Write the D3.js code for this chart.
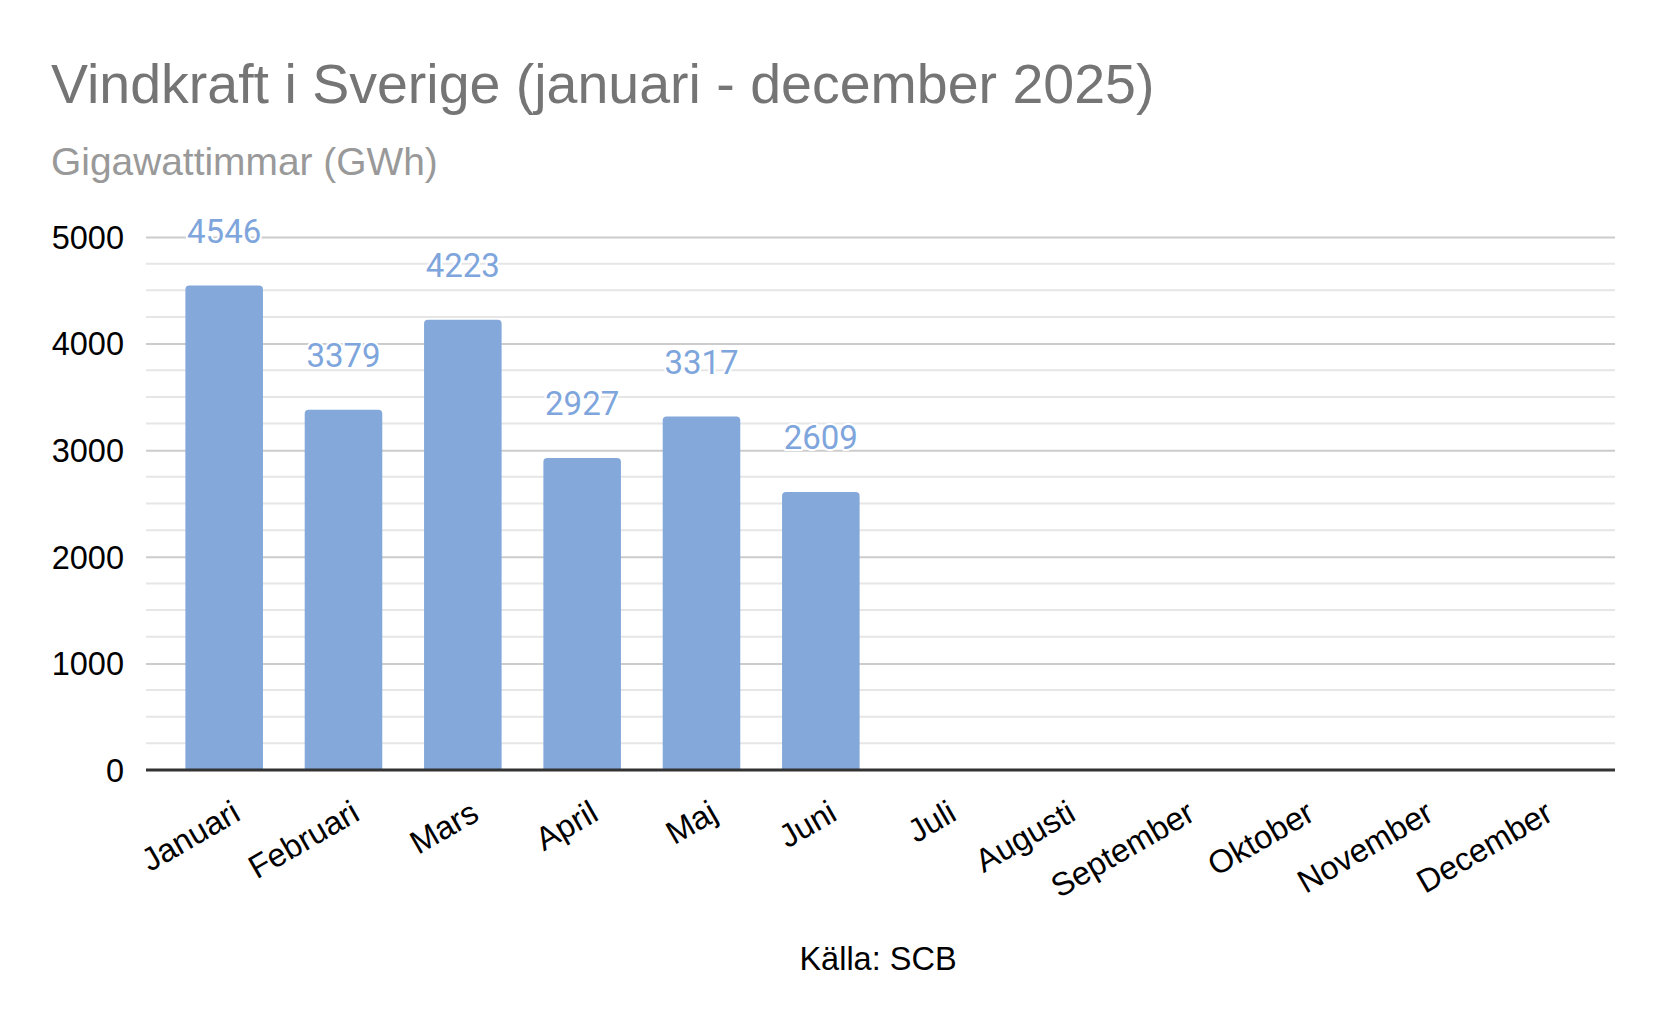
<!DOCTYPE html>
<html>
<head>
<meta charset="utf-8">
<script src="https://cdn.jsdelivr.net/npm/d3@7"></script>
<style>
  html, body { margin: 0; padding: 0; background: #fff; }
  svg { display: block; }
</style>
</head>
<body>
<script>
const months = ["Januari","Februari","Mars","April","Maj","Juni","Juli","Augusti","September","Oktober","November","December"];
const values = [4546, 3379, 4223, 2927, 3317, 2609, null, null, null, null, null, null];
const majorTicks = [0, 1000, 2000, 3000, 4000, 5000];
const minorTicks = [250, 500, 750, 1250, 1500, 1750, 2250, 2500, 2750, 3250, 3500, 3750, 4250, 4500, 4750];
const titleText = "Vindkraft i Sverige (januari - december 2025)";
const subtitleText = "Gigawattimmar (GWh)";
const sourceText = "Källa: SCB";

(function () {
const W = 1666, H = 1030;
const pLeft = 146, pRight = 1615, pTop = 237, pBottom = 770;

const svg = d3.select("body").append("svg").attr("width", W).attr("height", H);

const x = d3.scaleBand().domain(months).range([pLeft, pRight]).paddingInner(0.35).paddingOuter(0.33);
const y = d3.scaleLinear().domain([0, 5000]).range([pBottom, pTop]);

const sans = "'Liberation Sans', Arial, sans-serif";

// Title & subtitle
svg.append("text").attr("x", 51).attr("y", 103)
  .attr("font-family", sans).attr("font-size", 55.5).attr("fill", "#757575").text(titleText);
svg.append("text").attr("x", 51).attr("y", 175)
  .attr("font-family", sans).attr("font-size", 38.9).attr("fill", "#999999").text(subtitleText);

// Minor gridlines
svg.append("g").selectAll("line").data(minorTicks).join("line")
  .attr("x1", pLeft).attr("x2", pRight)
  .attr("y1", d => y(d)).attr("y2", d => y(d))
  .attr("stroke", "#e6e6e6").attr("stroke-width", 2);

// Major gridlines via axis
const yAxis = d3.axisLeft(y).tickValues(majorTicks).tickSize(-(pRight - pLeft)).tickPadding(22).tickFormat(d3.format("d"));
const gy = svg.append("g").attr("transform", `translate(${pLeft},0)`).call(yAxis);
gy.select(".domain").remove();
gy.selectAll(".tick line").attr("stroke", "#cccccc").attr("stroke-width", 2)
  .filter(d => d === 0).attr("stroke", "none");
gy.selectAll(".tick text").attr("font-family", sans).attr("font-size", 32.5).attr("fill", "#000")
  .attr("dy", "0.35em");

// Bars
const r = 4;
const data = months.map((m, i) => ({ m, v: values[i] })).filter(d => d.v != null);
svg.append("g").selectAll("path").data(data).join("path")
  .attr("fill", "#84a8da")
  .attr("d", d => {
    const x0 = x(d.m), w = x.bandwidth(), yt = y(d.v), yb = y(0);
    return `M${x0},${yb}V${yt + r}Q${x0},${yt} ${x0 + r},${yt}H${x0 + w - r}Q${x0 + w},${yt} ${x0 + w},${yt + r}V${yb}Z`;
  });

// Zero line
svg.append("line").attr("x1", pLeft).attr("x2", pRight).attr("y1", y(0)).attr("y2", y(0))
  .attr("stroke", "#333333").attr("stroke-width", 3);

// Value labels
svg.append("g").selectAll("text").data(data).join("text")
  .attr("x", d => x(d.m) + x.bandwidth() / 2)
  .attr("y", d => y(d.v) - 42.5)
  .attr("text-anchor", "middle")
  .attr("font-family", "Roboto, sans-serif").attr("font-size", 33)
  .attr("fill", "#7ea5dc")
  .attr("stroke", "#ffffff").attr("stroke-width", 4).attr("paint-order", "stroke")
  .attr("stroke-linejoin", "round")
  .text(d => d.v);

// X axis labels (slanted)
const xAxis = d3.axisBottom(x).tickSize(0).tickPadding(0);
const gx = svg.append("g").attr("transform", `translate(0,${pBottom})`).call(xAxis);
gx.select(".domain").remove();
gx.selectAll(".tick text")
  .attr("font-family", sans).attr("font-size", 32.5).attr("fill", "#000")
  .attr("text-anchor", "end").attr("dy", null).attr("y", null)
  .attr("transform", "translate(18,49) rotate(-30)");

// Source
svg.append("text").attr("x", 878).attr("y", 970).attr("text-anchor", "middle")
  .attr("font-family", sans).attr("font-size", 32.5).attr("fill", "#000").text(sourceText);
})();
</script>
</body>
</html>
